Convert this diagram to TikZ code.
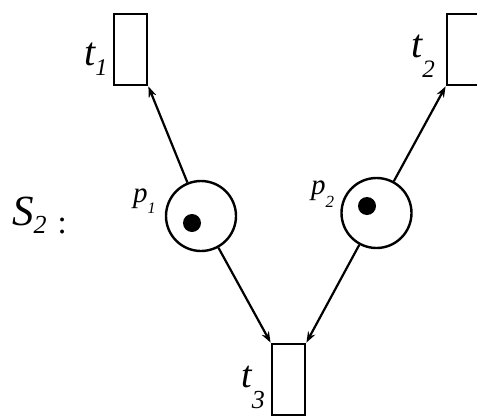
\documentclass[tikz,border=0pt]{standalone}
\usepackage{fontspec}
\setmainfont{Liberation Serif}
\usetikzlibrary{arrows.meta,calc}

% letter with a lowered index: sizes, letter, index, drop
\newcommand\sublabel[5]{{\fontsize{#1}{#1}\selectfont\itshape #2}\raisebox{-#5}{\fontsize{#3}{#3}\selectfont\itshape #4}}

\begin{document}
\begin{tikzpicture}[x=1pt,y=-1pt,
  trans/.style={draw,line width=2.8pt,minimum width=33pt,minimum height=71pt,inner sep=0pt},
  place/.style={draw,circle,line width=2.4pt,minimum size=70pt,inner sep=0pt},
  token/.style={fill,circle,minimum size=18pt,inner sep=0pt},
  arc/.style={line width=2.2pt,-{Stealth[length=11pt,width=8pt]}},
  lab/.style={anchor=base west,inner sep=0pt}]
\useasboundingbox (0,0) rectangle (477,418);

% Transitions.
\node[trans] (t1) at (130.5,49.5) {};
\node[trans] (t2) at (463.5,49.5) {};
\node[trans] (t3) at (288.5,379.5) {};

% Places with their tokens.
\node[place] (p1) at (201,216) {};
\node[place] (p2) at (376.5,213) {};
\node[token] (m1) at (192,223) {};
\node[token] (m2) at (367,206) {};

\draw[arc] (p1) -- (t1.south east);
\draw[arc] (p2) -- (t2.south west);
\draw[arc] (p1) -- (t3.north west);
\draw[arc] (p2) -- (t3.north east);

\node[lab] (lt1) at (84,65) {\sublabel{40pt}{t}{24pt}{1}{10pt}};
\node[lab] (lt2) at (411,57) {\sublabel{40pt}{t}{25pt}{2}{20pt}};
\node[lab] (lt3) at (241,387) {\sublabel{38pt}{t}{26pt}{3}{21pt}};

\node[lab] (lp1) at (133,202) {\sublabel{29pt}{p}{16pt}{1}{11pt}};
\node[lab] (lp2) at (311,194) {\sublabel{29pt}{p}{17pt}{2}{13pt}};

\node[lab] (ls2) at (12,225) {\sublabel{43pt}{S}{26pt}{2}{8pt}\hspace{11pt}\raisebox{-8pt}{\fontsize{33pt}{33pt}\selectfont :}};
\end{tikzpicture}
\end{document}
